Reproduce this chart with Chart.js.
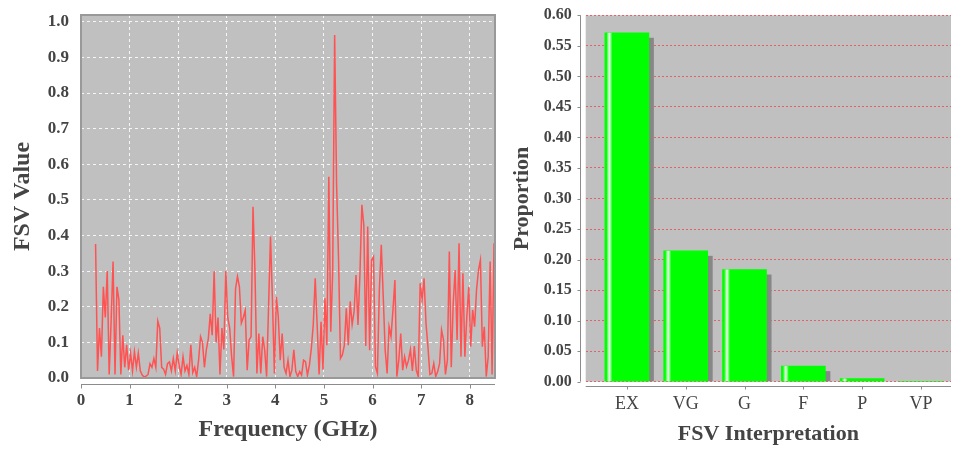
<!DOCTYPE html>
<html>
<head>
<meta charset="utf-8">
<script src="https://cdn.jsdelivr.net/npm/chart.js@4.4.0/dist/chart.umd.min.js"></script>
<style>
  body { margin: 0; background: #fff; }
  #wrap { position: relative; width: 953px; height: 453px; }
  #fsvChart { position: absolute; left: 0; top: 0; }
  #classChart { position: absolute; left: 500px; top: 0; }
</style>
</head>
<body>
<div id="wrap">
  <canvas id="fsvChart" width="500" height="453"></canvas>
  <canvas id="classChart" width="453" height="453"></canvas>
</div>
<script>
// FSV per frequency sample (GHz grid starts at 0.30, 0.04 step)
const freqStart = 0.30;
const freqStep = 0.04;
const fsvValues = [
  0.376, 0.02, 0.14, 0.06, 0.256, 0.17, 0.30, 0.01, 0.16, 0.327,
  0.01, 0.256, 0.22, 0.01, 0.12, 0.03, 0.093, 0.022, 0.07, 0.02,
  0.074, 0.03, 0.07, 0.02, 0.008, 0.003, 0.005, 0.01, 0.04, 0.03,
  0.055, 0.03, 0.16, 0.14, 0.03, 0.025, 0.01, 0.04, 0.045, 0.02,
  0.055, 0.02, 0.07, 0.035, 0.01, 0.06, 0.02, 0.035, 0.01, 0.093,
  0.015, 0.03, 0.003, 0.05, 0.116, 0.10, 0.03, 0.08, 0.11, 0.18,
  0.12, 0.30, 0.10, 0.17, 0.01, 0.14, 0.08, 0.30, 0.17, 0.14,
  0.06, 0.004, 0.25, 0.285, 0.256, 0.154, 0.17, 0.19, 0.022, 0.107,
  0.116, 0.481, 0.30, 0.013, 0.125, 0.013, 0.116, 0.079, 0.004, 0.20,
  0.397, 0.219, 0.013, 0.228, 0.172, 0.05, 0.125, 0.03, 0.013, 0.05,
  0.004, 0.022, 0.079, 0.018, 0.004, 0.018, 0.008, 0.05, 0.046, 0.008,
  0.036, 0.083, 0.15, 0.28, 0.149, 0.01, 0.158, 0.023, 0.224, 0.092,
  0.565, 0.13, 0.30, 0.963, 0.542, 0.336, 0.055, 0.065, 0.092, 0.196,
  0.092, 0.215, 0.15, 0.186, 0.289, 0.149, 0.289, 0.486, 0.43, 0.09,
  0.425, 0.078, 0.331, 0.341, 0.032, 0.013, 0.247, 0.374, 0.228, 0.078,
  0.013, 0.144, 0.116, 0.19, 0.275, 0.004, 0.05, 0.125, 0.022, 0.06,
  0.032, 0.05, 0.08, 0.02, 0.09, 0.022, 0.004, 0.266, 0.22, 0.28,
  0.153, 0.088, 0.01, 0.013, 0.041, 0.004, 0.018, 0.041, 0.135, 0.107,
  0.01, 0.05, 0.355, 0.03, 0.21, 0.303, 0.107, 0.378, 0.06, 0.294,
  0.06, 0.172, 0.256, 0.088, 0.191, 0.144, 0.247, 0.303, 0.331, 0.088,
  0.144, 0.004, 0.06, 0.327, 0.01, 0.378
];

// share of samples in each FSV class
const fsvClasses = ['EX', 'VG', 'G', 'F', 'P', 'VP'];
const classShare = [0.5714, 0.2143, 0.1837, 0.0255, 0.0051, 0];

const SERIF = "'Liberation Serif', 'Times New Roman', serif";
const TEXT = '#444444';
const PLOT_BG = '#c0c0c0';

const freqGHz = fsvValues.map((_, i) => +(freqStart + i * freqStep).toFixed(2));

// fixed axis sizes so the plot boxes land where they should
const fixWidth = w => s => { s.width = w; s.paddingTop = 0; s.paddingBottom = 0; };
const fixHeight = h => s => { s.height = h; s.paddingLeft = 0; s.paddingRight = 0; };

// gray plot area behind everything
const plotBackground = {
  id: 'plotBackground',
  beforeDraw(chart) {
    const {ctx, chartArea: a} = chart;
    ctx.save();
    ctx.fillStyle = PLOT_BG;
    ctx.fillRect(a.left, a.top, a.right - a.left, a.bottom - a.top);
    ctx.restore();
  }
};

// outline + x axis sitting a few px under the plot
const fsvFrame = {
  id: 'fsvFrame',
  afterDatasetsDraw(chart) {
    const {ctx, chartArea: a, scales: {x}} = chart;
    ctx.save();
    ctx.strokeStyle = '#999999';
    ctx.lineWidth = 2;
    ctx.strokeRect(a.left, a.top, a.right - a.left, a.bottom - a.top);
    const y0 = Math.round(a.bottom) + 6.5;
    ctx.strokeStyle = '#8c8c8c';
    ctx.lineWidth = 1;
    ctx.beginPath();
    ctx.moveTo(a.left, y0);
    ctx.lineTo(a.right, y0);
    x.ticks.forEach(t => {
      const px = Math.round(x.getPixelForValue(t.value)) + 0.5;
      ctx.moveTo(px, y0);
      ctx.lineTo(px, y0 + 4);
    });
    ctx.stroke();
    ctx.restore();
  }
};

// drop shadow, highlight stripe and offset axes for the bars
const barDecor = {
  id: 'barDecor',
  beforeDatasetsDraw(chart) {
    const {ctx, chartArea: a} = chart;
    ctx.save();
    ctx.beginPath();
    ctx.rect(a.left, a.top, a.right - a.left, a.bottom - a.top);
    ctx.clip();
    ctx.fillStyle = '#878787';
    chart.getDatasetMeta(0).data.forEach(bar => {
      const {x, y, base, width} = bar.getProps(['x', 'y', 'base', 'width'], true);
      const h = base - y - 5;
      if (h > 0) ctx.fillRect(x - width / 2 + 5, y + 5, width, h);
    });
    ctx.restore();
  },
  afterDatasetsDraw(chart) {
    const {ctx, chartArea: a, scales: {x, y: yScale}} = chart;
    ctx.save();
    chart.getDatasetMeta(0).data.forEach(bar => {
      const {x: cx, y, base, width} = bar.getProps(['x', 'y', 'base', 'width'], true);
      if (base - y < 0.5) return;
      const l = cx - width / 2;
      const g = ctx.createLinearGradient(l + 1.5, 0, l + 7.5, 0);
      g.addColorStop(0, 'rgba(255,255,255,0)');
      g.addColorStop(0.5, 'rgba(255,255,255,0.95)');
      g.addColorStop(1, 'rgba(255,255,255,0)');
      ctx.fillStyle = g;
      ctx.fillRect(l + 1.5, y, 6, base - y);
    });

    ctx.strokeStyle = '#8c8c8c';
    ctx.lineWidth = 1;
    ctx.beginPath();
    // value axis
    const xa = Math.round(a.left) - 5.5;
    ctx.moveTo(xa, a.top);
    ctx.lineTo(xa, a.bottom);
    yScale.ticks.forEach(t => {
      const py = Math.round(yScale.getPixelForValue(t.value)) + 0.5;
      ctx.moveTo(xa - 3, py);
      ctx.lineTo(xa, py);
    });
    // category axis
    const ya = Math.round(a.bottom) + 4.5;
    ctx.moveTo(a.left, ya);
    ctx.lineTo(a.right, ya);
    x.ticks.forEach(t => {
      const px = Math.round(x.getPixelForValue(t.value)) + 0.5;
      ctx.moveTo(px, ya);
      ctx.lineTo(px, ya + 3);
    });
    ctx.stroke();
    ctx.restore();
  }
};

new Chart(document.getElementById('fsvChart'), {
  type: 'line',
  data: {
    datasets: [{
      data: fsvValues.map((v, i) => ({x: freqGHz[i], y: v})),
      borderColor: '#ff5252',
      borderWidth: 1.5,
      pointRadius: 0,
      tension: 0
    }]
  },
  options: {
    responsive: false,
    animation: false,
    devicePixelRatio: 1,
    layout: {padding: {top: 15, right: 5, left: 0, bottom: 0}},
    plugins: {legend: {display: false}, tooltip: {enabled: false}},
    scales: {
      x: {
        type: 'linear',
        min: 0,
        max: 8.52,
        afterFit: fixHeight(75),
        ticks: {
          stepSize: 1,
          includeBounds: false,
          padding: 12,
          color: TEXT,
          font: {family: SERIF, size: 17, weight: 'bold'},
          maxRotation: 0
        },
        grid: {color: 'rgba(255,255,255,0.85)', drawTicks: false},
        border: {display: false, dash: [3, 3]},
        title: {
          display: true,
          text: 'Frequency (GHz)',
          color: TEXT,
          font: {family: SERIF, size: 24, weight: 'bold'},
          padding: {top: 0, bottom: 9}
        }
      },
      y: {
        min: 0,
        max: 1.019,
        afterFit: fixWidth(81),
        ticks: {
          stepSize: 0.1,
          includeBounds: false,
          padding: 12,
          color: TEXT,
          font: {family: SERIF, size: 17, weight: 'bold'},
          callback: v => v.toFixed(1)
        },
        grid: {color: 'rgba(255,255,255,0.85)', drawTicks: false},
        border: {display: false, dash: [3, 3]},
        title: {
          display: true,
          text: 'FSV Value',
          color: TEXT,
          font: {family: SERIF, size: 24, weight: 'bold'},
          padding: {top: 8, bottom: 0}
        }
      }
    }
  },
  plugins: [plotBackground, fsvFrame]
});

new Chart(document.getElementById('classChart'), {
  type: 'bar',
  data: {
    datasets: [{
      data: classShare.map((v, i) => ({x: i, y: v})),
      backgroundColor: '#00ff00',
      borderWidth: 0,
      barThickness: 44
    }]
  },
  options: {
    responsive: false,
    animation: false,
    devicePixelRatio: 1,
    layout: {padding: {top: 15.3, right: 2, left: 0, bottom: 0}},
    plugins: {legend: {display: false}, tooltip: {enabled: false}},
    scales: {
      x: {
        type: 'linear',
        offset: false,
        min: -0.70,
        max: 5.51,
        afterFit: fixHeight(71.3),
        ticks: {
          stepSize: 1,
          includeBounds: false,
          padding: 11.5,
          color: TEXT,
          font: {family: SERIF, size: 18},
          maxRotation: 0,
          autoSkip: false,
          callback: v => fsvClasses[v] ?? ''
        },
        grid: {display: false, drawTicks: false},
        border: {display: false},
        title: {
          display: true,
          text: 'FSV Interpretation',
          color: TEXT,
          font: {family: SERIF, size: 22, weight: 'bold'},
          padding: {top: 0, bottom: 5}
        }
      },
      y: {
        min: 0,
        max: 0.6,
        afterFit: fixWidth(85.7),
        ticks: {
          stepSize: 0.05,
          padding: 14,
          color: TEXT,
          font: {family: SERIF, size: 16, weight: 'bold'},
          callback: v => v.toFixed(2)
        },
        grid: {color: 'rgba(228,84,84,0.85)', drawTicks: false},
        border: {display: false, dash: [2, 2]},
        title: {
          display: true,
          text: 'Proportion',
          color: TEXT,
          font: {family: SERIF, size: 22, weight: 'bold'},
          padding: {top: 9, bottom: 0}
        }
      }
    }
  },
  plugins: [plotBackground, barDecor]
});
</script>
</body>
</html>
